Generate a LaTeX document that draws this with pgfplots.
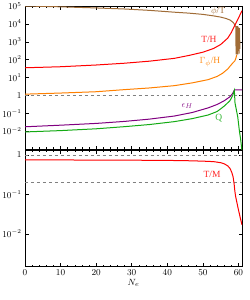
\documentclass[border=0pt]{standalone}
\usepackage{pgfplots}
\pgfplotsset{compat=1.18}
\usepackage{fontspec}
\setmainfont{Liberation Serif}
\definecolor{cbrown}{RGB}{160,108,55}
\definecolor{cbrownl}{RGB}{165,115,65}
\definecolor{cred}{RGB}{255,0,0}
\definecolor{corange}{RGB}{255,128,0}
\definecolor{cpurple}{RGB}{128,0,128}
\definecolor{cgreen}{RGB}{20,170,20}
\begin{document}
\begin{tikzpicture}
\begin{axis}[name=top, at={(25bp,-6bp)}, anchor=north west,
  scale only axis, width=217bp, height=143bp, ymode=log,
  xmin=0, xmax=61, ymin=1e-3, ymax=1e5,
  xtick={0,10,...,60}, minor x tick num=4, yminorticks=false,
  tick align=inside, major tick length=3.5bp, minor tick length=2bp,
  tick style={black, line width=0.5bp},
  tick label style={font=\fontsize{9}{10}\selectfont},
  axis line style={line width=0.6bp},
  ytick={1e-2,1e-1,1,10,100,1000,1e4,1e5},
  yticklabels={$10^{-2}$,$10^{-1}$,$1$,$10^{1}$,$10^{2}$,$10^{3}$,$10^{4}$,$10^{5}$},
  xticklabels={}]
\addplot[gray, dashed, line width=0.5bp] coordinates {(0,1) (61,1)};
% phi/T
\addplot[cbrown, line width=1bp] coordinates {
(0,1e5) (10,9.0e4) (20,7.8e4) (28,6.8e4) (35,5.7e4) (42,4.5e4) (46,4.0e4) (50,3.4e4) (53,2.8e4) (55,2.4e4) (56.5,2.0e4) (57.6,1.65e4) (58.3,1.3e4) (58.76,1.05e4) (59.2,7e3)};
\addplot[cbrown, line width=0.7bp] coordinates {
(59.2,7e3) (59.3,2e2) (59.45,7.5e3) (59.6,1.9e2) (59.75,7.5e3) (59.9,2e2) (60.05,7e3) (60.2,2.2e2) (60.35,6e3) (60.45,4e2)};
% T/H
\addplot[cred, line width=1bp] coordinates {
(0,35) (10,40) (20,50) (28,63) (35,82) (42,118) (46,170) (50,260) (53,420) (55,700) (57,1600) (58,3300) (59,8500) (60,2.1e4) (61,5.5e4)};
% Gamma/H
\addplot[corange, line width=1bp] coordinates {
(0,1.17) (10,1.35) (20,1.6) (28,2.1) (35,2.6) (42,3.5) (47,5) (51.5,7.6) (54,11.5) (55.5,17) (57,30) (57.6,42) (58.5,68) (59,85) (59.3,125) (59.5,180)};
% eps_H
\addplot[cpurple, line width=1bp] coordinates {
(0,0.0175) (10,0.0215) (20,0.027) (28,0.035) (35,0.047) (42,0.07) (47,0.11) (51.5,0.2) (54,0.31) (56,0.5) (57.6,0.83) (58.4,1.3) (58.85,2.0) (61,2.0)};
% Q
\addplot[cgreen, line width=1bp] coordinates {
(0,0.009) (10,0.0107) (20,0.0135) (28,0.0178) (35,0.0234) (42,0.034) (47,0.05) (51.5,0.08) (54,0.125) (56,0.25) (57.6,0.5) (58.4,1.0) (58.85,1.9) (59.04,0.37) (59.8,0.063) (60.25,0.011) (60.64,0.0032) (60.95,0.0009)};
\node[text=cbrownl] at (axis cs:54.3,5.0e4) {\fontsize{9.5}{10}\selectfont$\phi$/T};
\node[text=cred!85] at (axis cs:51.7,1.4e3) {\fontsize{9.5}{10}\selectfont T/H};
\node[text=corange!90] at (axis cs:52,72) {\fontsize{9.5}{10}\selectfont$\Gamma_\phi$/H};
\node[text=cpurple!85] at (axis cs:45.6,0.25) {\fontsize{9.5}{10}\selectfont$\epsilon_H$};
\node[text=cgreen!85] at (axis cs:54.5,0.054) {\fontsize{9.5}{10}\selectfont Q};
\end{axis}
\begin{axis}[name=bot, at={(25bp,-150bp)}, anchor=north west,
  scale only axis, width=217bp, height=116.5bp, ymode=log,
  xmin=0, xmax=61, ymin=1.5e-3, ymax=1.34,
  xtick={0,10,...,60}, minor x tick num=4, yminorticks=false,
  tick align=inside, major tick length=3.5bp, minor tick length=2bp,
  tick style={black, line width=0.5bp},
  tick label style={font=\fontsize{9}{10}\selectfont},
  axis line style={line width=0.6bp},
  ytick={1e-2,1e-1,1},
  yticklabels={$10^{-2}$,$10^{-1}$,$1$},
  xlabel={$N_e$},
  xlabel style={font=\fontsize{9.5}{10}\selectfont, yshift=3bp}]
\addplot[gray, dashed, line width=0.5bp] coordinates {(0,1) (61,1)};
\addplot[gray, dashed, line width=0.5bp] coordinates {(0,0.2) (61,0.2)};
\addplot[cred, line width=1bp] coordinates {
(0,0.75) (10,0.75) (20,0.745) (30,0.74) (40,0.73) (45,0.72) (50,0.70) (53,0.68) (55,0.64) (56,0.6) (57,0.53) (57.6,0.46) (58.1,0.37) (58.5,0.28) (58.8,0.18) (59.0,0.12) (59.2,0.09) (59.9,0.045) (60.5,0.026) (61,0.017)};
\node[text=cred!85] at (axis cs:52.6,0.33) {\fontsize{9.5}{10}\selectfont T/M};
\end{axis}
\pgfresetboundingbox
\path (0,0) rectangle (250bp,-300bp);
\end{tikzpicture}
\end{document}
